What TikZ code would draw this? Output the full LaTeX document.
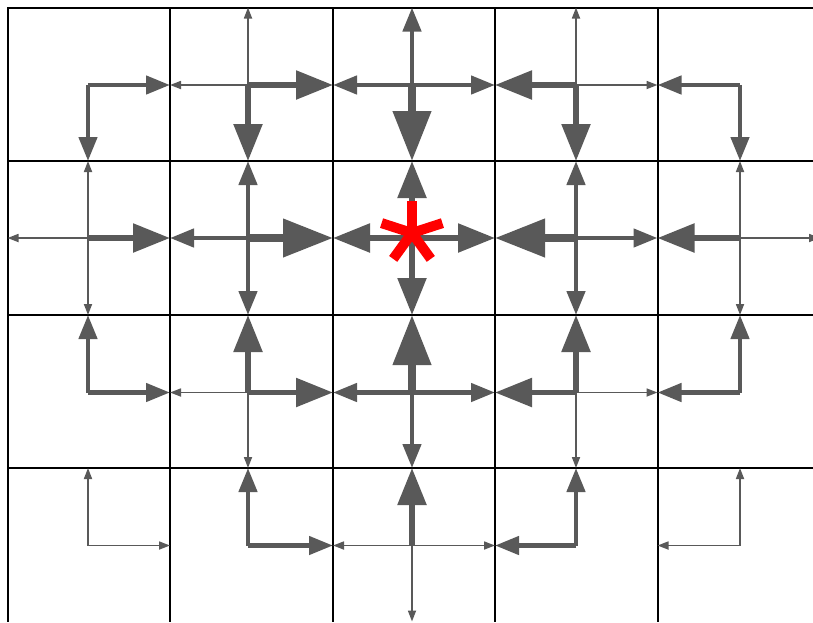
\documentclass[tikz,border=0pt]{standalone}
\usetikzlibrary{arrows.meta}
\definecolor{flowgray}{RGB}{89,89,89}
\definecolor{goalred}{RGB}{255,0,0}

\begin{document}
\begin{tikzpicture}[x=1pt, y=-1pt,
  cellline/.style={draw=black, line width=2pt},
  weak/.style={draw=flowgray, line width=1.7pt, -{Triangle[length=11pt, width=8pt]}},
  fair/.style={draw=flowgray, line width=4.5pt, -{Triangle[length=24pt, width=18pt]}},
  strong/.style={draw=flowgray, line width=5.5pt, -{Triangle[length=37pt, width=28pt]}},
  heavy/.style={draw=flowgray, line width=7.5pt, -{Triangle[length=50pt, width=37pt]}}]
\clip (0,0) rectangle (813,622);
% cell grid
\draw[cellline] (813,7.5) -- (7.5,7.5) -- (7.5,622);
\foreach \y in {161,315,468} \draw[cellline] (7.5,\y) -- (813,\y);
\foreach \x in {170,333,495,657.5} \draw[cellline] (\x,7.5) -- (\x,622);
% centre and edge midpoints of every cell
\foreach \cx/\xl/\xr [count=\j] in {88/7.5/170, 248/170/333, 412/333/495, 576/495/657.5, 740/657.5/820}
  \foreach \cy/\yt/\yb [count=\i] in {85/7.5/161, 238/161/315, 392.5/315/468, 545.5/468/621.5} {
    \coordinate (c\i\j) at (\cx,\cy);
    \coordinate (n\i\j) at (\cx,\yt);
    \coordinate (s\i\j) at (\cx,\yb);
    \coordinate (w\i\j) at (\xl,\cy);
    \coordinate (e\i\j) at (\xr,\cy);
  }
% row 1
\draw[fair](c11)--(e11);\draw[fair](c11)--(s11);
\draw[weak](c12)--(n12);\draw[weak](c12)--(w12);\draw[strong](c12)--(e12);\draw[strong](c12)--(s12);
\draw[fair](c13)--(n13);\draw[fair](c13)--(w13);\draw[fair](c13)--(e13);\draw[heavy](c13)--(s13);
\draw[weak](c14)--(n14);\draw[weak](c14)--(e14);\draw[strong](c14)--(w14);\draw[strong](c14)--(s14);
\draw[fair](c15)--(w15);\draw[fair](c15)--(s15);
% row 2
\draw[weak](c21)--(n21);\draw[weak](c21)--(w21);\draw[weak](c21)--(s21);\draw[strong](c21)--(e21);
\draw[fair](c22)--(n22);\draw[fair](c22)--(w22);\draw[fair](c22)--(s22);\draw[heavy](c22)--(e22);
\draw[strong](c23)--(n23);\draw[strong](c23)--(w23);\draw[strong](c23)--(e23);\draw[strong](c23)--(s23);
\draw[fair](c24)--(n24);\draw[fair](c24)--(e24);\draw[fair](c24)--(s24);\draw[heavy](c24)--(w24);
\draw[weak](c25)--(n25);\draw[weak](c25)--(e25);\draw[weak](c25)--(s25);\draw[strong](c25)--(w25);
% row 3
\draw[fair](c31)--(n31);\draw[fair](c31)--(e31);
\draw[weak](c32)--(w32);\draw[weak](c32)--(s32);\draw[strong](c32)--(n32);\draw[strong](c32)--(e32);
\draw[fair](c33)--(w33);\draw[fair](c33)--(e33);\draw[fair](c33)--(s33);\draw[heavy](c33)--(n33);
\draw[weak](c34)--(e34);\draw[weak](c34)--(s34);\draw[strong](c34)--(n34);\draw[strong](c34)--(w34);
\draw[fair](c35)--(n35);\draw[fair](c35)--(w35);
% row 4
\draw[weak](c41)--(n41);\draw[weak](c41)--(e41);
\draw[fair](c42)--(n42);\draw[fair](c42)--(e42);
\draw[weak](c43)--(w43);\draw[weak](c43)--(e43);\draw[weak](c43)--(s43);\draw[strong](c43)--(n43);
\draw[fair](c44)--(n44);\draw[fair](c44)--(w44);
\draw[weak](c45)--(n45);\draw[weak](c45)--(w45);
% goal marker
\coordinate (goal) at (412,233);
\foreach \a in {54,126,198,270,342} \draw[goalred, line width=10pt] (goal) -- ++(\a:32);
\end{tikzpicture}
\end{document}
